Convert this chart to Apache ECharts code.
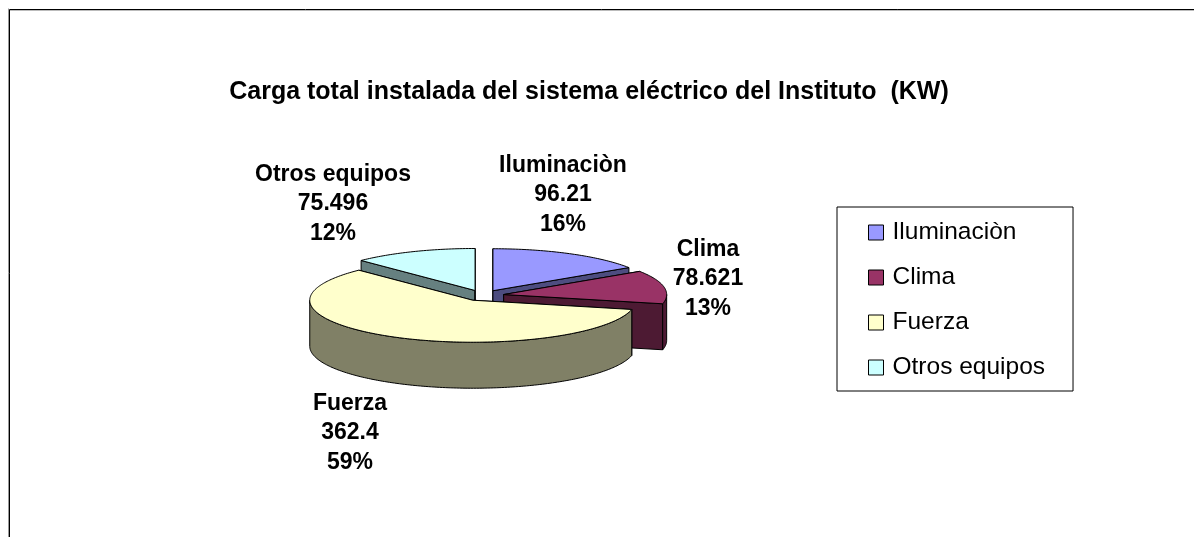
<!DOCTYPE html>
<html><head><meta charset="utf-8">
<style>html,body{margin:0;padding:0;background:#fff}#c{width:1194px;height:537px}</style>
<script src="https://cdn.jsdelivr.net/npm/echarts@6/dist/echarts.min.js"></script>
</head><body><div id="c"></div>
<script>
const categories = ['Iluminaciòn', 'Clima', 'Fuerza', 'Otros equipos'];
const values = [96.21, 78.621, 362.4, 75.496];
const topColors = ['#9999FF', '#993366', '#FFFFCC', '#CCFFFF'];
const sideColors = ['#4D4D80', '#4D1A33', '#808066', '#668080'];
const labelCenters = [[563, 195], [708, 279], [350, 433], [333, 204]];

const PIE = { cx: 483, cy: 295.5, a: 163, b: 42, depth: 46, explode: 21 };
const total = values.reduce((s, v) => s + v, 0);
const RAD = Math.PI / 180;
const startAngles = [];
values.reduce((acc, v, i) => { startAngles[i] = acc; return acc + v / total * 360; }, 0);
const mid = i => startAngles[i] + values[i] / total * 180;
const rank = values.map((_, i) => -Math.cos(mid(i) * RAD));
const order = rank.map((r, i) => [r, i]).sort((x, y) => x[0] - y[0]).map(p => p[1]);

function renderSlice(i, api) {
  const v = api.value(0);
  const t0 = startAngles[i], t1 = t0 + v / total * 360;
  const tm = (t0 + t1) / 2 * RAD;
  const ox = PIE.cx + PIE.explode * Math.sin(tm);
  const oy = PIE.cy - PIE.explode * (PIE.b / PIE.a) * Math.cos(tm);
  const pt = (deg, dz) => [ox + PIE.a * Math.sin(deg * RAD), oy - PIE.b * Math.cos(deg * RAD) + (dz || 0)];
  const arc = [];
  for (let d = t0; d < t1; d += 1) arc.push(pt(d));
  arc.push(pt(t1));
  const stroke = { stroke: '#000', lineWidth: 1, lineJoin: 'round' };
  const side = { fill: sideColors[i], ...stroke };
  const children = [];
  const radial = deg => ({ type: 'polygon', silent: true,
    shape: { points: [[ox, oy], pt(deg), pt(deg, PIE.depth), [ox, oy + PIE.depth]] }, style: side });
  children.push(radial(t0), radial(t1));
  const a0 = Math.max(t0, 90), a1 = Math.min(t1, 270);
  if (a1 > a0) {
    const upper = [], lower = [];
    for (let d = a0; d < a1; d += 1) { upper.push(pt(d)); lower.unshift(pt(d, PIE.depth)); }
    upper.push(pt(a1)); lower.unshift(pt(a1, PIE.depth));
    children.push({ type: 'polygon', silent: true, shape: { points: upper.concat(lower) }, style: side });
  }
  children.push({ type: 'polygon', silent: true, shape: { points: [[ox, oy]].concat(arc) },
    style: { fill: topColors[i], ...stroke } });
  const text = categories[i] + '\n' + v + '\n' + Math.round(v / total * 100) + '%';
  children.push({ type: 'text', silent: true, z2: 10,
    style: { x: labelCenters[i][0], y: labelCenters[i][1], text, align: 'center', verticalAlign: 'middle',
      font: 'bold 23px "Liberation Sans", Arial, sans-serif', lineHeight: 29.5, fill: '#000' } });
  return { type: 'group', children };
}

const chart = echarts.init(document.getElementById('c'), null, { renderer: 'canvas' });
chart.setOption({
  animation: false,
  backgroundColor: '#fff',
  title: {
    text: 'Carga total instalada del sistema eléctrico del Instituto  (KW)',
    left: 589, top: 75, textAlign: 'center', padding: [5, 10, 5, 0],
    textStyle: { fontFamily: '"Liberation Sans", Arial, sans-serif', fontWeight: 'bold', fontSize: 25, color: '#000' }
  },
  legend: {
    orient: 'vertical', left: 837, top: 207,
    backgroundColor: '#fff', borderColor: '#000', borderWidth: 1, borderRadius: 0,
    padding: [13, 28, 11, 31], itemWidth: 15, itemHeight: 15, itemGap: 20, selectedMode: false,
    textStyle: { fontFamily: '"Liberation Sans", Arial, sans-serif', fontSize: 24.5, color: '#000', padding: [0, 0, 0, 4] },
    data: categories.map((n, i) => ({ name: n, icon: 'rect',
      itemStyle: { color: topColors[i], borderColor: '#000', borderWidth: 1 } }))
  },
  graphic: [
    { type: 'polyline', silent: true, shape: { points: [[8.5, 537], [8.5, 8.5]] },
      style: { stroke: '#999', lineWidth: 1, fill: null } },
    { type: 'polyline', silent: true, shape: { points: [[10, 10.5], [1194, 10.5]] },
      style: { stroke: '#bbb', lineWidth: 1, fill: null } },
    { type: 'polyline', silent: true, shape: { points: [[9.5, 537], [9.5, 9.5], [1194, 9.5]] },
      style: { stroke: '#000', lineWidth: 1, fill: null } }
  ],
  series: categories.map((name, i) => ({
    type: 'custom', name, coordinateSystem: 'none', silent: true,
    z: 2 + order.indexOf(i),
    itemStyle: { color: topColors[i] },
    data: [[values[i]]],
    renderItem: (params, api) => renderSlice(i, api)
  }))
});
</script></body></html>
